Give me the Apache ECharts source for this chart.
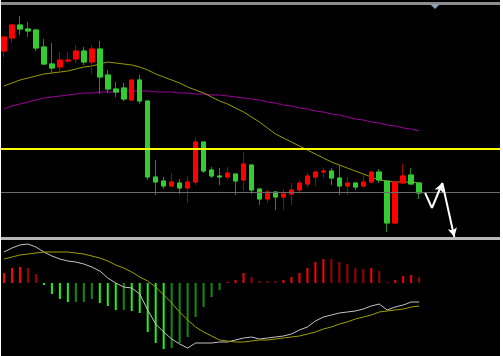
<!DOCTYPE html>
<html><head><meta charset="utf-8">
<script src="https://cdn.jsdelivr.net/npm/echarts@6/dist/echarts.min.js"></script>
<style>html,body{margin:0;padding:0;background:#ffffff;}#c{width:503px;height:356px;}</style>
</head><body><div id="c"></div>
<script>
// ---- price data (one entry per candle) ----
const opens  = [189,202,215,211,210,193,176,173,179,181,189,178,191,165,151,152,140,160,139,63,59,54,57,52,58,98,70,64,63,66,60,75,51,41,48,43,46,50,56,63,68,69,62,54,57,54,58,68,59,17,57,65,57];
const closes = [203,215,211,209,192,176,172,180,180,189,178,191,163,151,148,141,160,139,63,58,54,58,52,58,98,69,64,63,67,59,76,50,41,48,43,46,50,57,64,68,69,62,54,57,53,58,68,60,17,58,64,56,47];
const lows   = [183,197,205,203,189,175,167,169,177,177,175,166,146,147,143,139,140,136,60,45,51,53,46,37,55,67,62,55,60,45,49,46,35,37,30,30,35,47,53,54,62,55,45,45,50,52,57,57,8,17,57,56,41];
const highs  = [203,216,224,218,211,201,197,188,188,195,193,195,199,170,158,157,160,165,139,80,63,67,61,64,102,98,73,72,73,66,88,75,51,50,48,51,57,60,67,68,72,72,75,63,57,65,68,71,59,58,76,72,57];
// moving averages
const maFast = [154,157,160,162,164,166,167,168,169,171,173,174,176,178,177,176,175,173,170,166,163,160,157,153,150,147,143,139,136,132,128,123,118,112,106,102,98,94,90,86,82,78,75,72,69,66,63,60,59,58,58,58,57];
const maSlow = [131,134,136,138,140,142,143,144,145,146,147,147,148,148,148,149,149,149,149,148,148,148,147,147,146,146,145,145,144,143,142,141,140,138,137,135,134,132,131,129,128,126,125,123,121,120,118,117,115,114,112,111,109];
// MACD
const macdHist   = [10,15,16,15,9,-2,-11,-16,-19,-19,-19,-16,-20,-23,-27,-27,-28,-30,-49,-60,-66,-65,-60,-54,-34,-24,-14,-7,1,3,10,6,2,2,2,3,6,10,15,21,24,24,21,19,15,14,15,12,1,3,7,8,6];
const macdMain   = [31,35,38,39,36,31,27,24,22,21,19,16,12,5,0,-4,-5,-11,-27,-41,-49,-56,-61,-65,-60,-60,-60,-59,-59,-57,-55,-54,-56,-55,-54,-53,-51,-47,-44,-38,-34,-32,-30,-29,-28,-26,-23,-21,-27,-24,-22,-19,-19];
const macdSignal = [24,26,28,29,30,31,31,31,31,30,29,27,25,22,18,15,11,6,2,-4,-12,-20,-29,-37,-44,-49,-53,-57,-58,-59,-59,-58,-57,-57,-56,-55,-54,-53,-51,-49,-46,-44,-41,-39,-36,-34,-32,-29,-28,-27,-26,-24,-23];
// levels and projection drawing
const resistanceLevel = 91;
const supportLevel = 48;
const arrowPath = [[52.75,47],[53.6,32],[54.9,57],[56.4,3]];
const slotCount = 63;
const categories = Array.from({length: slotCount}, (_, i) => String(i + 1));

const fullCandles = opens.map((o, i) => [o, closes[i], lows[i], highs[i]]);
const bodyCandles = opens.map((o, i) => [o, closes[i], Math.min(o, closes[i]), Math.max(o, closes[i])]);

const chart = echarts.init(document.getElementById('c'), null, {renderer: 'canvas'});
const hidden = {show: false};
const arrowLines = [];
for (let k = 0; k < arrowPath.length - 1; k++) {
  arrowLines.push([
    {coord: arrowPath[k], symbol: 'none'},
    {coord: arrowPath[k + 1], symbol: k === 0 ? 'none' : 'arrow', symbolSize: [7, 9]}
  ]);
}
chart.setOption({
  backgroundColor: '#000000',
  animation: false,
  grid: [
    {left: -1, width: 504, top: 5, height: 232},
    {left: -1, width: 504, top: 240, height: 112}
  ],
  xAxis: [
    {type: 'category', data: categories, gridIndex: 0, boundaryGap: true, axisLine: hidden, axisTick: hidden, axisLabel: hidden, splitLine: hidden},
    {type: 'value', gridIndex: 0, min: -0.5, max: slotCount - 0.5, show: false, splitLine: hidden},
    {type: 'category', data: categories, gridIndex: 1, boundaryGap: true, axisLine: hidden, axisTick: hidden, axisLabel: hidden, splitLine: hidden}
  ],
  yAxis: [
    {type: 'value', gridIndex: 0, min: 3, max: 235, show: false, splitLine: hidden},
    {type: 'value', gridIndex: 1, min: -69, max: 43, show: false, splitLine: hidden}
  ],
  series: [
    {type: 'line', xAxisIndex: 0, yAxisIndex: 0, data: maSlow, symbol: 'none', silent: true,
     lineStyle: {color: '#990099', width: 1}, z: 1},
    {type: 'line', xAxisIndex: 0, yAxisIndex: 0, data: maFast, symbol: 'none', silent: true,
     lineStyle: {color: '#9b9b00', width: 1}, z: 1},
    {type: 'candlestick', xAxisIndex: 0, yAxisIndex: 0, data: fullCandles, barWidth: 5, silent: true, z: 2,
     itemStyle: {color: '#ff0000', color0: '#2ecc2e', borderColor: '#a80000', borderColor0: '#1f8f1f', borderWidth: 1}},
    {type: 'candlestick', xAxisIndex: 0, yAxisIndex: 0, data: bodyCandles, barWidth: 5, silent: true, z: 3,
     itemStyle: {color: '#ff0000', color0: '#33cc33', borderColor: '#ff0000', borderColor0: '#33cc33', borderWidth: 1},
     markLine: {silent: true, symbol: ['none', 'none'], label: {show: false}, animation: false,
       data: [
         {yAxis: supportLevel, lineStyle: {color: '#6a6a6a', width: 1, type: 'solid'}},
         {yAxis: resistanceLevel, lineStyle: {color: '#ffff00', width: 2, type: 'solid'}}
       ]}},
    {type: 'line', xAxisIndex: 1, yAxisIndex: 0, data: [], symbol: 'none', silent: true, z: 5,
     markLine: {silent: true, symbol: ['none', 'arrow'], label: {show: false}, animation: false,
       lineStyle: {color: '#ffffff', width: 2, type: 'solid'},
       data: arrowLines}},
    {type: 'bar', xAxisIndex: 2, yAxisIndex: 1, data: macdHist, barWidth: 2, silent: true,
     itemStyle: {color: function (p) {
       const v = macdHist[p.dataIndex];
       const prev = p.dataIndex > 0 ? macdHist[p.dataIndex - 1] : 0;
       const growing = Math.abs(v) > Math.abs(prev) || Math.sign(v) !== Math.sign(prev);
       if (v >= 0) return growing ? '#ff0000' : '#a00000';
       return growing ? '#22ee22' : '#138a13';
     }}},
    {type: 'line', xAxisIndex: 2, yAxisIndex: 1, data: macdMain, symbol: 'none', silent: true,
     lineStyle: {color: '#c4c4c4', width: 1}, z: 4},
    {type: 'line', xAxisIndex: 2, yAxisIndex: 1, data: macdSignal, symbol: 'none', silent: true,
     lineStyle: {color: '#a0a000', width: 1}, z: 4}
  ],
  graphic: [
    {type: 'rect', shape: {x: 0, y: 2, width: 503, height: 3}, style: {fill: '#8c8c8c'}, silent: true, z: 100},
    {type: 'polygon', shape: {points: [[430, 4], [440, 4], [435, 9]]}, style: {fill: '#8ea0b4'}, silent: true, z: 101},
    {type: 'rect', shape: {x: 0, y: 237, width: 503, height: 3}, style: {fill: '#b8b8b8'}, silent: true, z: 100},
    {type: 'rect', shape: {x: 500, y: 0, width: 3, height: 356}, style: {fill: '#ffffff'}, silent: true, z: 102},
    {type: 'rect', shape: {x: 0, y: 0, width: 1, height: 356}, style: {fill: '#ffffff'}, silent: true, z: 102}
  ]
});
</script></body></html>
